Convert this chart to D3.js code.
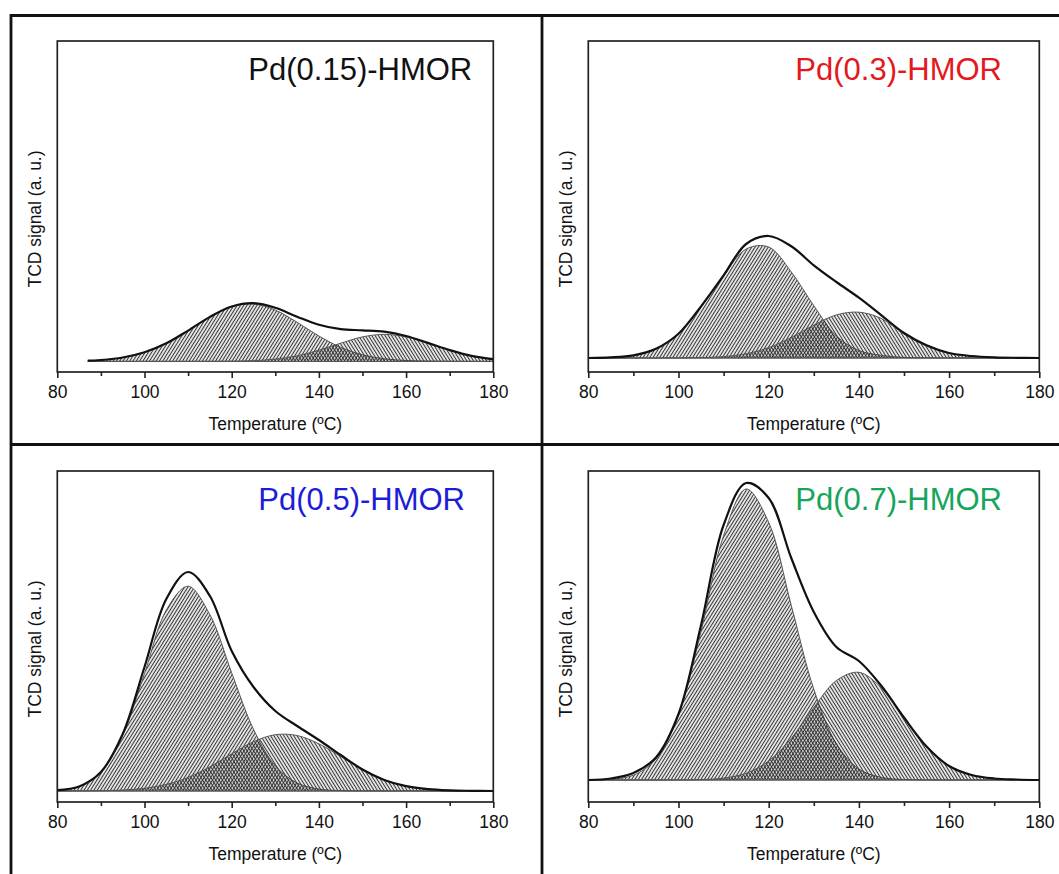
<!DOCTYPE html>
<html>
<head>
<meta charset="utf-8">
<script src="https://cdn.jsdelivr.net/npm/d3@7"></script>
<style>
  body { margin: 0; background: #fff; }
  text { font-family: Arial, "Liberation Sans", sans-serif; }
</style>
</head>
<body>
<svg id="chart" width="1059" height="874"></svg>
<script>
// sample names + label colours
var names = ["Pd(0.15)-HMOR", "Pd(0.3)-HMOR", "Pd(0.5)-HMOR", "Pd(0.7)-HMOR"];
var nameColors = ["#111111", "#e3191e", "#1d1dd8", "#17a55b"];

// x ticks
var majorTicks = [80, 100, 120, 140, 160, 180];
var minorTicks = [90, 110, 130, 150, 170];

// temperatures (ºC); the 0.15 run starts at 87 ºC
var temps015 = [87, 90, 95, 100, 105, 110, 115, 120, 125, 130, 135, 140, 145, 150, 155, 160, 165, 170, 175, 180];
var temps = [80, 85, 90, 95, 100, 105, 110, 115, 120, 125, 130, 135, 140, 145, 150, 155, 160, 165, 170, 175, 180];

var env015   = [0.7, 1.4, 3.9, 9.1, 18.1, 30.8, 44.5, 54.9, 58.2, 53.6, 44.7, 36.6, 32.2, 31.1, 29.7, 25.4, 18.5, 11.3, 5.6, 2.3];
var peakA015 = [0.7, 1.4, 3.9, 9.1, 18.1, 30.8, 44.4, 54.7, 57.4, 51.3, 39.1, 25.4, 14.0, 6.6, 2.7, 0.9, 0.3, 0.1, 0, 0];
var peakB015 = [0, 0, 0, 0, 0, 0, 0.05, 0.2, 0.8, 2.3, 5.6, 11.2, 18.2, 24.5, 27, 24.5, 18.2, 11.2, 5.6, 2.3];

var env03   = [0, 0.6, 2.7, 9.3, 24.3, 51.7, 82.7, 114, 122, 111.7, 92.7, 76, 60.3, 42.7, 25, 12.7, 5, 2, 0.7, 0.2, 0];
var peakA03 = [0.1, 0.6, 2.6, 9.1, 24.1, 51.5, 82.5, 109, 111, 86.1, 52.3, 22, 7.5, 2.6, 0.6, 0.1, 0, 0, 0, 0, 0];
var peakB03 = [0, 0, 0, 0, 0.1, 0.4, 1.4, 4.3, 10.4, 20.5, 32.9, 43.1, 45.8, 39.5, 24, 12, 4.8, 1.8, 0.6, 0.2, 0];

var env05   = [0.8, 4.5, 19, 57, 124, 192, 219, 195, 140, 104, 80, 65, 51, 36, 21.5, 11, 4.8, 1.8, 0.6, 0.2, 0];
var peakA05 = [0.8, 4.4, 18.8, 55.9, 117.4, 180.9, 204.7, 176.3, 118.1, 61.7, 25.1, 8.0, 2.0, 0.4, 0.1, 0, 0, 0, 0, 0, 0];
var peakB05 = [0, 0.1, 0.3, 1.0, 2.7, 6.6, 13.6, 24.2, 37.2, 49.3, 56.3, 55.5, 47.2, 34.6, 21.5, 11, 4.8, 1.8, 0.6, 0.2, 0];

var env07   = [0, 1.5, 7, 22.5, 66, 155, 255, 297, 282, 222, 168, 133, 119, 94, 62.5, 33.5, 14, 5, 1.5, 0.5, 0];
var peakA07 = [0.1, 0.8, 4.8, 20.9, 65.6, 148.7, 244.5, 291, 257.6, 174.6, 90.8, 36.2, 11.0, 2.6, 0.5, 0.1, 0, 0, 0, 0, 0];
var peakB07 = [0, 0, 0, 0, 0.1, 0.4, 1.9, 6.8, 19, 41.7, 72.5, 99.4, 107.7, 92.1, 62.3, 33.2, 14, 4.7, 1.2, 0.3, 0];

var panels = [
  {name: names[0], color: nameColors[0], t: temps015, env: env015, a: peakA015, b: peakB015, yDom: [-10.6, 320.4], x: 57.3, y: 41, w: 436, nameX: 191},
  {name: names[1], color: nameColors[1], t: temps, env: env03, a: peakA03, b: peakB03, yDom: [-14, 317], x: 588.3, y: 41, w: 451, nameX: 207},
  {name: names[2], color: nameColors[2], t: temps, env: env05, a: peakA05, b: peakB05, yDom: [-11, 320], x: 57.3, y: 471, w: 436, nameX: 201},
  {name: names[3], color: nameColors[3], t: temps, env: env07, a: peakA07, b: peakB07, yDom: [-22, 309], x: 588.3, y: 471, w: 451, nameX: 207}
];
var h = 331;

var svg = d3.select("#chart");
var defs = svg.append("defs");

// hatch patterns: "/" for the first peak, "\" for the second
[["hatchA", 32], ["hatchB", -32]].forEach(function(p) {
  defs.append("pattern")
    .attr("id", p[0])
    .attr("patternUnits", "userSpaceOnUse")
    .attr("width", 2.8)
    .attr("height", 10)
    .attr("patternTransform", "rotate(" + p[1] + ")")
    .append("line")
    .attr("x1", 1.4).attr("y1", -1)
    .attr("x2", 1.4).attr("y2", 11)
    .attr("stroke", "#333")
    .attr("stroke-width", 1.2);
});

// outer separators
var sep = svg.append("g").attr("stroke", "#111").attr("stroke-width", 2.8);
sep.append("line").attr("x1", 10).attr("x2", 1059).attr("y1", 15.5).attr("y2", 15.5);
sep.append("line").attr("x1", 11).attr("x2", 11).attr("y1", 14).attr("y2", 874);
sep.append("line").attr("x1", 542).attr("x2", 542).attr("y1", 14).attr("y2", 874);
sep.append("line").attr("x1", 10).attr("x2", 1059).attr("y1", 444.5).attr("y2", 444.5);

panels.forEach(function(p, i) {
  var g = svg.append("g").attr("transform", "translate(" + p.x + "," + p.y + ")");
  var x = d3.scaleLinear().domain([80, 180]).range([0, p.w]);
  var y = d3.scaleLinear().domain(p.yDom).range([h, 0]);

  defs.append("clipPath").attr("id", "clip" + i)
    .append("rect").attr("width", p.w).attr("height", h);

  var plot = g.append("g").attr("clip-path", "url(#clip" + i + ")");

  var area = function(vals) {
    return d3.area()
      .x(function(d, k) { return x(p.t[k]); })
      .y0(y(0))
      .y1(function(d) { return y(d); })
      .curve(d3.curveCatmullRom.alpha(0.5))(vals);
  };

  plot.append("path").attr("d", area(p.a))
    .attr("fill", "url(#hatchA)").attr("stroke", "#555").attr("stroke-width", 1);
  plot.append("path").attr("d", area(p.b))
    .attr("fill", "url(#hatchB)").attr("stroke", "#555").attr("stroke-width", 1);

  var line = d3.line()
    .x(function(d, k) { return x(p.t[k]); })
    .y(function(d) { return y(d); })
    .curve(d3.curveCatmullRom.alpha(0.5));
  plot.append("path").attr("d", line(p.env))
    .attr("fill", "none").attr("stroke", "#111").attr("stroke-width", 2.2);

  // frame
  g.append("rect").attr("width", p.w).attr("height", h)
    .attr("fill", "none").attr("stroke", "#222").attr("stroke-width", 1.7);

  // x axis, major + minor ticks
  var major = g.append("g").attr("transform", "translate(0," + h + ")")
    .call(d3.axisBottom(x).tickValues(majorTicks).tickSize(6).tickPadding(8).tickFormat(d3.format("d")));
  var minor = g.append("g").attr("transform", "translate(0," + h + ")")
    .call(d3.axisBottom(x).tickValues(minorTicks).tickSize(4).tickFormat(""));
  [major, minor].forEach(function(a) {
    a.select(".domain").remove();
    a.selectAll("line").attr("stroke", "#222").attr("stroke-width", 1.6);
  });
  major.selectAll("text")
    .attr("font-size", 17.5).attr("fill", "#111")
    .style("font-family", "Arial, 'Liberation Sans', sans-serif");

  g.append("text")
    .attr("x", p.w / 2).attr("y", h + 58)
    .attr("text-anchor", "middle")
    .attr("font-size", 17.5).attr("fill", "#111")
    .text("Temperature (ºC)");

  g.append("text")
    .attr("transform", "translate(-16," + 178 + ") rotate(-90)")
    .attr("text-anchor", "middle")
    .attr("font-size", 17.5).attr("fill", "#111")
    .text("TCD signal (a. u.)");

  g.append("text")
    .attr("x", p.nameX).attr("y", 39)
    .attr("font-size", 31).attr("fill", p.color)
    .text(p.name);
});
</script>
</body>
</html>
